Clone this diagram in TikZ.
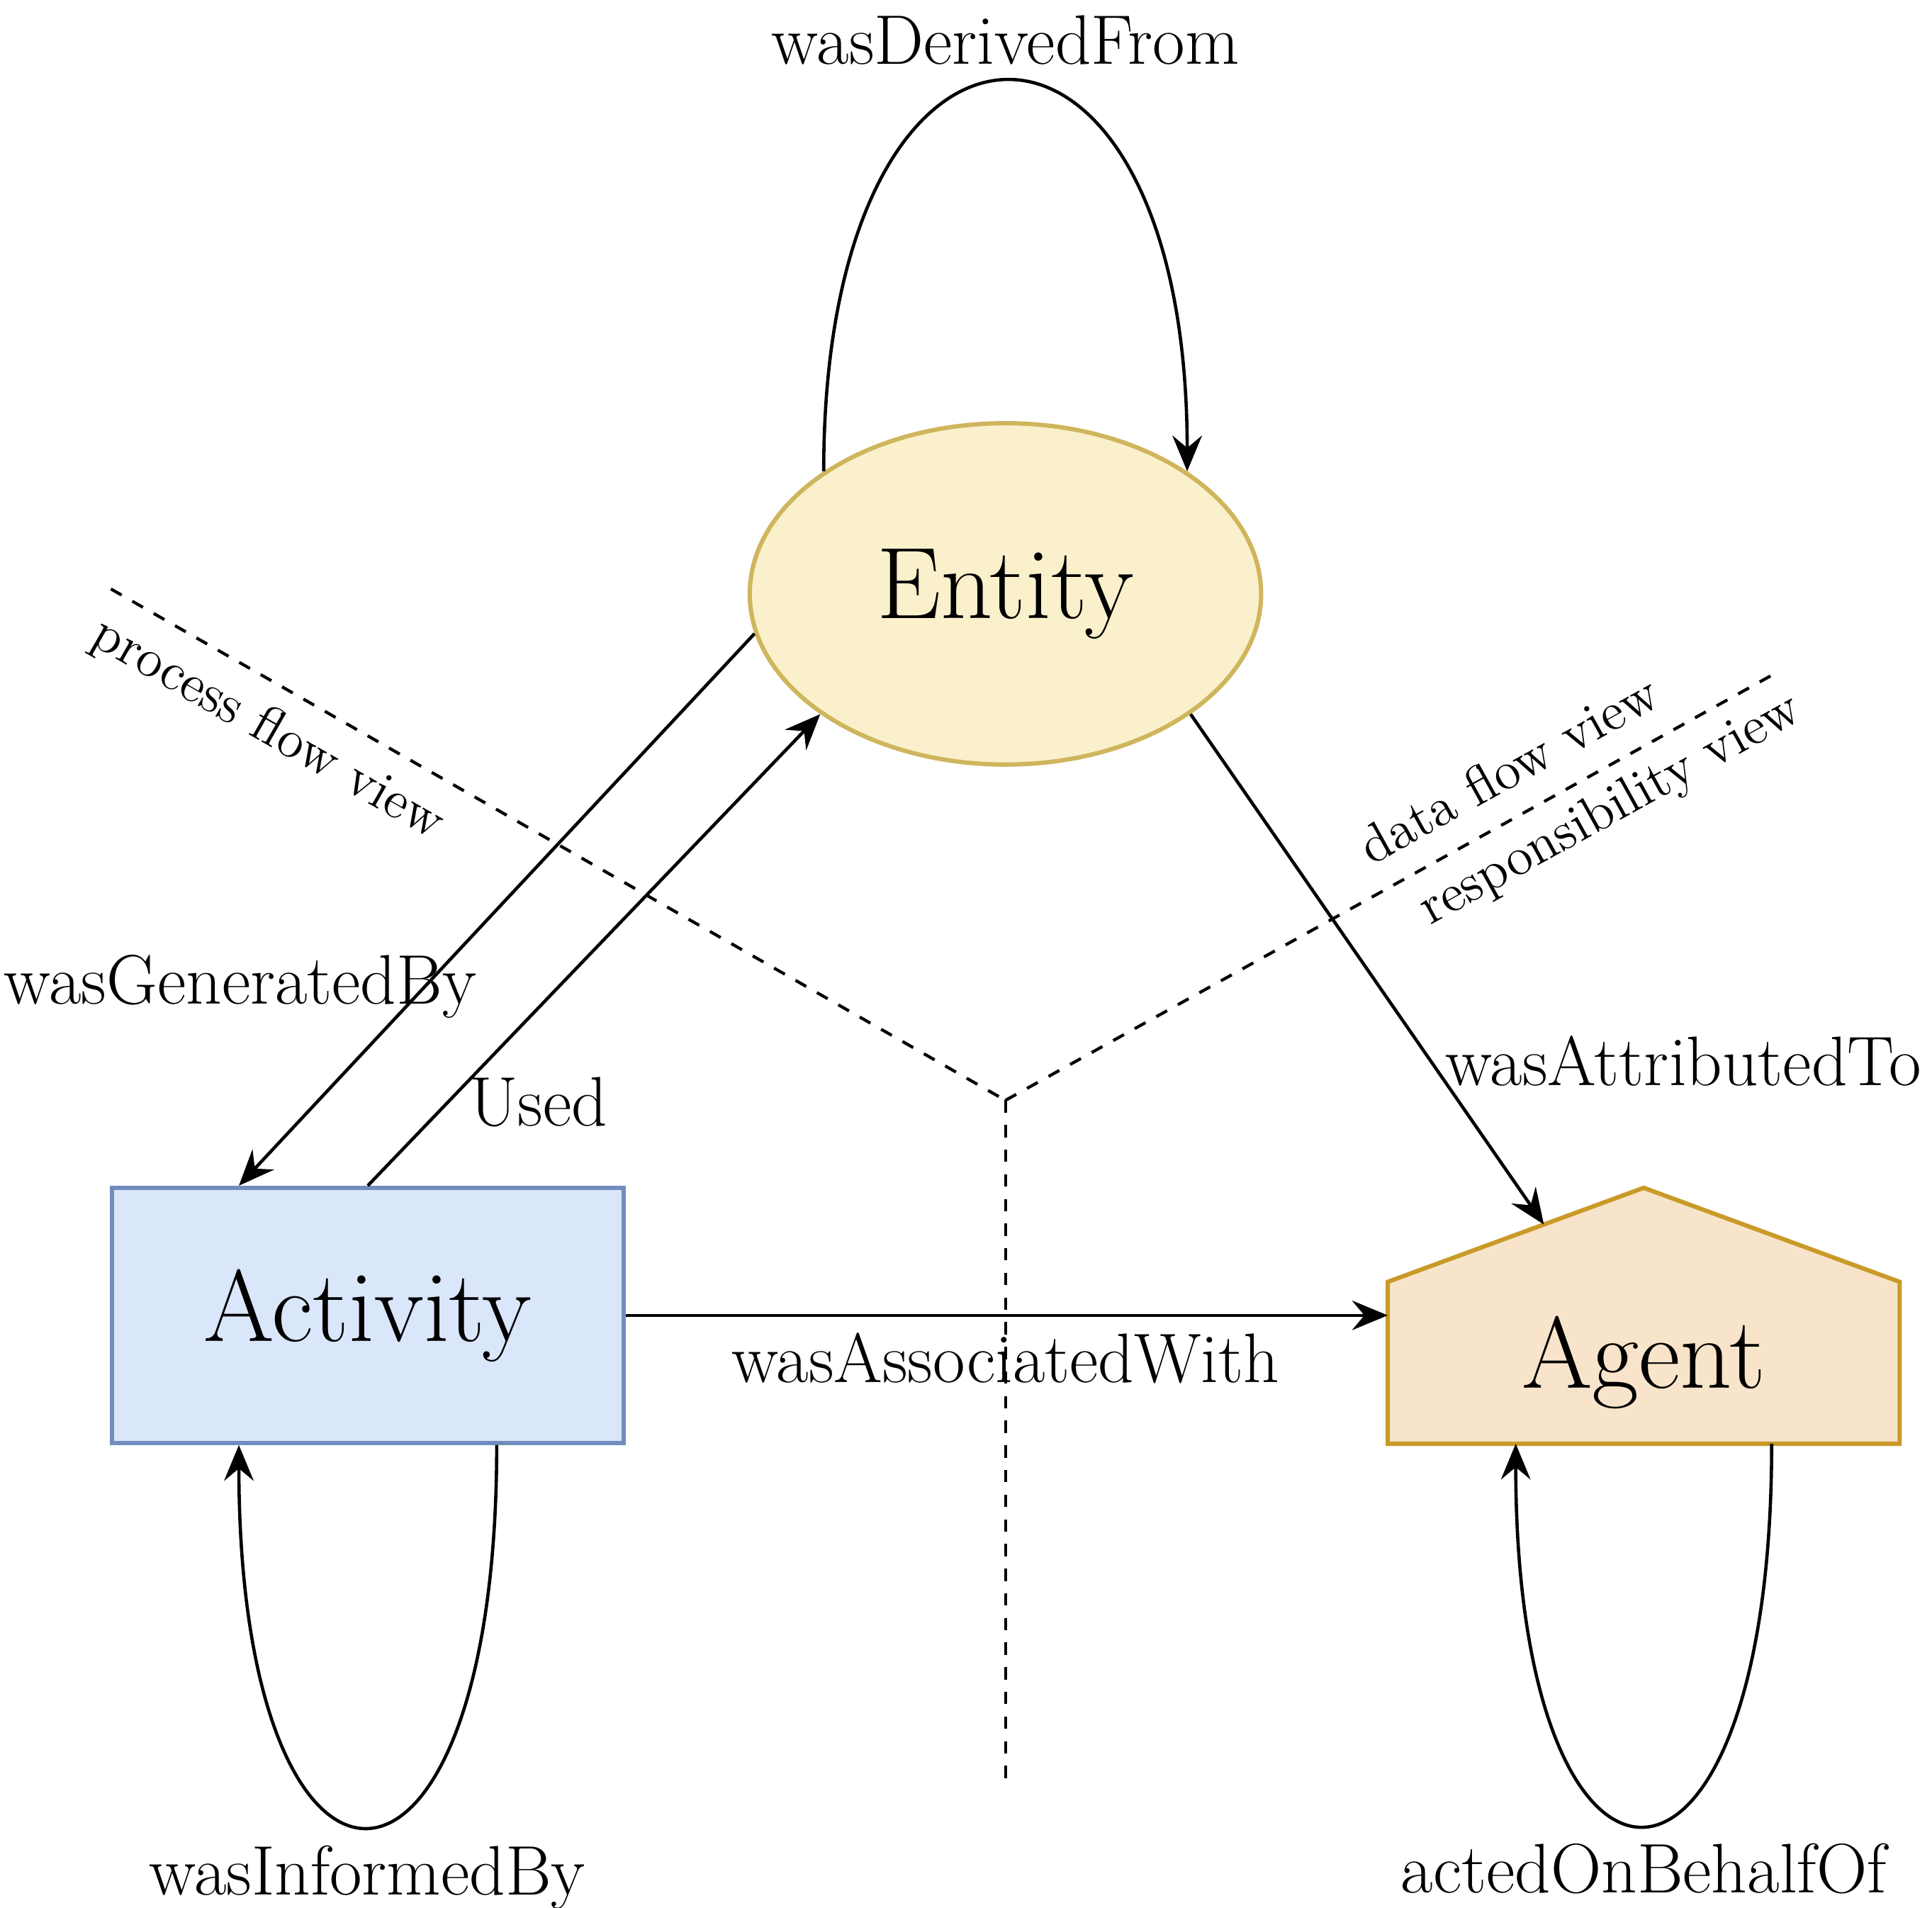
\documentclass[tikz,border=0pt]{standalone}
\usetikzlibrary{arrows.meta,positioning,calc,shapes.geometric,backgrounds}
\definecolor{entfill}{HTML}{FAF0CC}
\definecolor{entline}{HTML}{CFB55C}
\definecolor{actfill}{HTML}{DAE6FA}
\definecolor{actline}{HTML}{708DBE}
\definecolor{agfill}{HTML}{F8E4CA}
\definecolor{agline}{HTML}{C99A28}
\begin{document}
\begin{tikzpicture}[x=1cm,y=1cm,
 big/.style={font=\fontsize{23.5}{28}\selectfont},
 entitynode/.style={ellipse,draw=entline,fill=entfill,line width=1pt,minimum width=4.15cm,minimum height=2.77cm,inner sep=0pt,big},
 actnode/.style={rectangle,draw=actline,fill=actfill,line width=1pt,minimum width=4.15cm,minimum height=2.07cm,inner sep=0pt,big},
 agentnode/.style={rectangle,minimum width=4.14cm,minimum height=1.30cm,inner sep=0pt,big},
 rel/.style={-{Stealth[length=2.9mm,width=2.4mm,inset=1mm]},line width=.75pt},
 viewline/.style={dash pattern=on 1mm off 1mm,line width=.7pt},
 lbl/.style={anchor=base,inner sep=0pt,font=\fontsize{16.2}{19}\selectfont},
 viewlbl/.style={sloped,font=\fontsize{12.4}{15}\selectfont}]
\path[use as bounding box] (0,0) rectangle (15.68,15.48);
% the three classes
\node[entitynode] (entity) at (8.16,10.66) {Entity};
\node[actnode] (activity) at (2.985,4.805) {Activity};
\node[agentnode] (agent) at (13.34,4.42) {Agent};
\coordinate (agentpeak) at (13.34,5.84);
\begin{scope}[on background layer]
\draw[agline,fill=agfill,line width=1pt] (agent.south west)--(agent.north west)--(agentpeak)--(agent.north east)--(agent.south east)--cycle;
\end{scope}
% view separators
\coordinate (hub) at (8.16,6.55);
\coordinate (pfstart) at (0.90,10.70);
\coordinate (rvend) at (14.38,10.00);
\coordinate (hubfoot) at (8.16,1.00);
\draw[viewline] (pfstart) -- node[viewlbl,below=1pt,pos=0.2] (pflbl) {process flow view} (hub);
\draw[viewline] (hub) -- node[viewlbl,above=2.5pt,pos=0.685] (dflbl) {data flow view}
 node[viewlbl,below,pos=0.765] (rvlbl) {responsibility view} (rvend);
\draw[viewline] (hub) -- (hubfoot);
% relations
\coordinate (roofhit) at ($(agent.north west)!0.61!(agentpeak)$);
\draw[rel] (entity.146) .. controls +(0,4.21) and +(0,4.21) .. (entity.34);
\draw[rel] (entity.189) -- ($(activity.north west)!0.25!(activity.north east)$);
\draw[rel] (activity.north) -- (entity.213);
\draw[rel] (entity.327) -- (roofhit);
\draw[rel] (activity.east) -- (activity.east -| agent.west);
\draw[rel] ($(activity.south west)!0.75!(activity.south east)$) .. controls +(0,-4.12) and +(0,-4.12) .. ($(activity.south west)!0.25!(activity.south east)$);
\draw[rel] ($(agent.south west)!0.75!(agent.south east)$) .. controls +(0,-4.12) and +(0,-4.12) .. ($(agent.south west)!0.25!(agent.south east)$);
\node[lbl] (derivedlbl) at (8.16,14.96) {wasDerivedFrom};
\node[lbl] (generatedlbl) at (1.95,7.33) {wasGeneratedBy};
\node[lbl] (usedlbl) at (4.37,6.34) {Used};
\node[lbl] (attributedlbl) at (13.66,6.67) {wasAttributedTo};
\node[lbl] (associatedlbl) at (8.16,4.26) {wasAssociatedWith};
\node[lbl] (informedlbl) at (2.98,0.10) {wasInformedBy};
\node[lbl] (behalflbl) at (13.34,0.12) {actedOnBehalfOf};
\end{tikzpicture}
\end{document}
